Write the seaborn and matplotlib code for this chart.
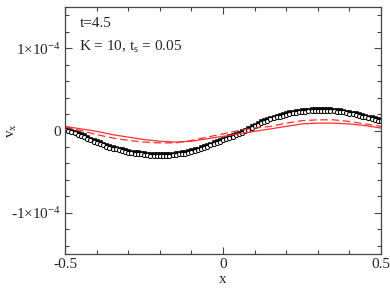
import numpy as np
import pandas as pd
import matplotlib
matplotlib.use("Agg")
import matplotlib.pyplot as plt
import seaborn as sns
from matplotlib.ticker import MultipleLocator, FixedLocator

sns.set_style("ticks")
plt.rcParams['font.family'] = ['Liberation Serif', 'DejaVu Serif']
plt.rcParams['mathtext.fontset'] = 'custom'
plt.rcParams['mathtext.rm'] = 'Liberation Serif'
plt.rcParams['mathtext.it'] = 'Liberation Serif'

# x grid of the black symbols
x_sym = [-0.50, -0.49, -0.48, -0.47, -0.46, -0.45, -0.44, -0.43, -0.42, -0.41,
         -0.40, -0.39, -0.38, -0.37, -0.36, -0.35, -0.34, -0.33, -0.32, -0.31,
         -0.30, -0.29, -0.28, -0.27, -0.26, -0.25, -0.24, -0.23, -0.22, -0.21,
         -0.20, -0.19, -0.18, -0.17, -0.16, -0.15, -0.14, -0.13, -0.12, -0.11,
         -0.10, -0.09, -0.08, -0.07, -0.06, -0.05, -0.04, -0.03, -0.02, -0.01,
         0.00, 0.01, 0.02, 0.03, 0.04, 0.05, 0.06, 0.07, 0.08, 0.09,
         0.10, 0.11, 0.12, 0.13, 0.14, 0.15, 0.16, 0.17, 0.18, 0.19,
         0.20, 0.21, 0.22, 0.23, 0.24, 0.25, 0.26, 0.27, 0.28, 0.29,
         0.30, 0.31, 0.32, 0.33, 0.34, 0.35, 0.36, 0.37, 0.38, 0.39,
         0.40, 0.41, 0.42, 0.43, 0.44, 0.45, 0.46, 0.47, 0.48, 0.49, 0.50]

# filled squares, v_x in units of 1e-4
v_sq = [0.03, 0.015, 0.00, -0.015, -0.03, -0.045, -0.06, -0.08, -0.10, -0.115,
        -0.13, -0.145, -0.16, -0.175, -0.19, -0.20, -0.21, -0.22, -0.23, -0.24,
        -0.25, -0.255, -0.26, -0.265, -0.27, -0.275, -0.28, -0.285, -0.29, -0.29,
        -0.29, -0.29, -0.29, -0.285, -0.28, -0.275, -0.27, -0.265, -0.26, -0.25,
        -0.24, -0.23, -0.22, -0.205, -0.19, -0.175, -0.16, -0.145, -0.13, -0.115,
        -0.10, -0.085, -0.07, -0.055, -0.04, -0.025, -0.01, 0.01, 0.03, 0.05,
        0.07, 0.09, 0.11, 0.125, 0.14, 0.155, 0.17, 0.18, 0.19, 0.20,
        0.21, 0.22, 0.23, 0.235, 0.24, 0.245, 0.25, 0.255, 0.26, 0.26,
        0.26, 0.26, 0.26, 0.26, 0.26, 0.255, 0.25, 0.245, 0.24, 0.23,
        0.22, 0.215, 0.21, 0.20, 0.19, 0.18, 0.17, 0.16, 0.15, 0.14, 0.13]

# open symbols, sitting a little below the filled ones
v_op = [0.01, -0.005, -0.02, -0.035, -0.05, -0.065, -0.08, -0.10, -0.12, -0.135,
        -0.15, -0.165, -0.18, -0.195, -0.21, -0.22, -0.23, -0.24, -0.25, -0.26,
        -0.27, -0.275, -0.28, -0.285, -0.29, -0.295, -0.30, -0.305, -0.31, -0.31,
        -0.31, -0.31, -0.31, -0.305, -0.30, -0.295, -0.29, -0.285, -0.28, -0.27,
        -0.26, -0.25, -0.24, -0.225, -0.21, -0.195, -0.18, -0.165, -0.15, -0.135,
        -0.12, -0.105, -0.09, -0.075, -0.06, -0.045, -0.03, -0.01, 0.01, 0.03,
        0.05, 0.07, 0.09, 0.105, 0.12, 0.135, 0.15, 0.16, 0.17, 0.18,
        0.19, 0.20, 0.21, 0.215, 0.22, 0.225, 0.23, 0.235, 0.24, 0.24,
        0.24, 0.24, 0.24, 0.24, 0.24, 0.235, 0.23, 0.225, 0.22, 0.21,
        0.20, 0.195, 0.19, 0.18, 0.17, 0.16, 0.15, 0.14, 0.13, 0.12, 0.11]

# red curves (x step 0.05)
x_red = [-0.50, -0.45, -0.40, -0.35, -0.30, -0.25, -0.20, -0.15, -0.10, -0.05,
         0.00, 0.05, 0.10, 0.15, 0.20, 0.25, 0.30, 0.35, 0.40, 0.45, 0.50]
v_solid = [0.05, 0.02, -0.01, -0.05, -0.08, -0.11, -0.13, -0.14, -0.13, -0.10,
           -0.07, -0.04, -0.01, 0.02, 0.05, 0.08, 0.09, 0.09, 0.08, 0.06, 0.03]
v_dash = [0.04, 0.00, -0.05, -0.09, -0.12, -0.14, -0.15, -0.15, -0.12, -0.08,
          -0.04, 0.00, 0.03, 0.05, 0.09, 0.12, 0.13, 0.13, 0.11, 0.08, 0.05]

sym = pd.DataFrame({'x': x_sym, 'sq': np.array(v_sq) * 1e-4,
                    'op': np.array(v_op) * 1e-4})
red = pd.DataFrame({'x': x_red, 'solid': np.array(v_solid) * 1e-4,
                    'dash': np.array(v_dash) * 1e-4})

fig = plt.figure(figsize=(3.9, 2.93), dpi=100)
ax = fig.add_axes([0.167, 0.133, 0.81, 0.843])

sns.lineplot(data=red, x='x', y='solid', color='#ff3030', lw=0.9, ax=ax)
sns.lineplot(data=red, x='x', y='dash', color='#ff3030', lw=0.9, ax=ax)
ax.lines[-1].set_dashes([6, 3])
sns.scatterplot(data=sym, x='x', y='sq', marker='s', s=6, color='black',
                edgecolor='black', linewidth=0.4, ax=ax)
sns.scatterplot(data=sym, x='x', y='op', marker='o', s=9, facecolor='white',
                edgecolor='black', linewidth=0.7, ax=ax)

ax.set_xlim(-0.5, 0.5)
ax.set_ylim(-1.5e-4, 1.5e-4)
ax.xaxis.set_major_locator(FixedLocator([-0.5, 0, 0.5]))
ax.xaxis.set_minor_locator(MultipleLocator(0.1))
ax.set_xticklabels(['-0.5', '0', '0.5'])
ax.yaxis.set_major_locator(FixedLocator([-1e-4, 0, 1e-4]))
ax.yaxis.set_minor_locator(MultipleLocator(0.2e-4))
ax.set_yticklabels([r'-1$\times$10$^{\mathregular{-4}}$', '0',
                    r'1$\times$10$^{\mathregular{-4}}$'])
ax.tick_params(which='both', direction='in', top=True, right=True,
               labelsize=11, color='#444444', width=0.8, pad=3)
ax.tick_params(which='major', length=5)
ax.tick_params(which='minor', length=3)
for s in ax.spines.values():
    s.set_color('#444444')
    s.set_linewidth(0.9)

ax.set_xlabel('x', fontsize=11, labelpad=1)
ax.set_ylabel(r'v$_{\mathregular{x}}$', fontsize=11)
ax.yaxis.set_label_coords(-0.145, 0.5)

ax.text(0.045, 0.92, 't=4.5', transform=ax.transAxes, fontsize=11)
ax.text(0.045, 0.822, r'K = 10, t$_{\mathregular{s}}$ = 0.05',
        transform=ax.transAxes, fontsize=11)

fig.savefig('out.png', dpi=100)
